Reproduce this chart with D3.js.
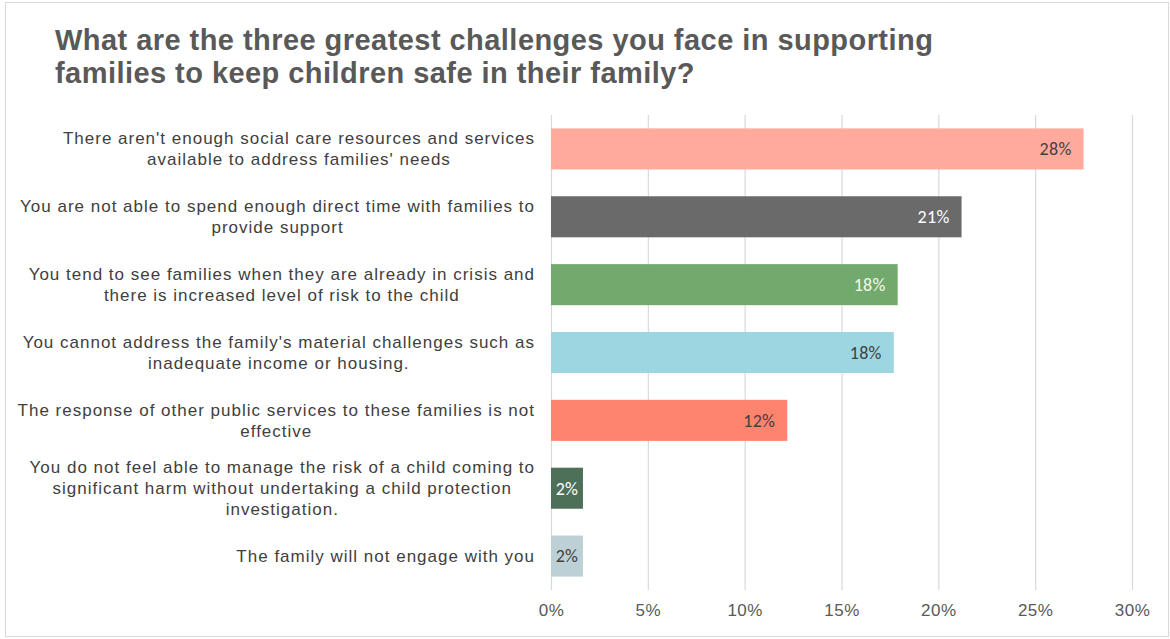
<!DOCTYPE html>
<html>
<head>
<meta charset="utf-8">
<script src="https://cdn.jsdelivr.net/npm/d3@7"></script>
<style>
  body { margin: 0; background: #fff; }
  svg { display: block; font-family: "Liberation Sans", Arial, sans-serif; }
</style>
</head>
<body>
<script>
// chart data
const categories = [
  ["There aren't enough social care resources and services", "available to address families' needs"],
  ["You are not able to spend enough direct time with families to", "provide support"],
  ["You tend to see families when they are already in crisis and", "there is increased level of risk to the child"],
  ["You cannot address the family's material challenges such as", "inadequate income or housing."],
  ["The response of other public services to these families is not", "effective"],
  ["You do not feel able to manage the risk of a child coming to", "significant harm without undertaking a child protection", "investigation."],
  ["The family will not engage with you"]
];
const values = [27.5, 21.2, 17.9, 17.7, 12.2, 1.65, 1.65];
const valueLabels = ["28%", "21%", "18%", "18%", "12%", "2%", "2%"];
const barColors = ["#FFAA9D", "#6A6A6B", "#72A96D", "#9DD6E0", "#FF8470", "#4E6F58", "#BDD0D6"];
const labelColors = ["#404040", "#ffffff", "#f4f8e8", "#404040", "#404040", "#ffffff", "#404040"];
const xTicks = [0, 5, 10, 15, 20, 25, 30];

const W = 1170, H = 639;
const svg = d3.select("body").append("svg").attr("width", W).attr("height", H);

// outer frame
svg.append("rect")
  .attr("x", 5.5).attr("y", 2.5).attr("width", 1163).attr("height", 634)
  .attr("fill", "#fff").attr("stroke", "#d9d9d9");

// title
svg.append("text")
  .attr("x", 55).attr("y", 50)
  .attr("font-size", 29).attr("font-weight", "bold").attr("fill", "#595959")
  .attr("letter-spacing", 0.45)
  .selectAll("tspan")
  .data(["What are the three greatest challenges you face in supporting", "families to keep children safe in their family?"])
  .join("tspan")
  .attr("x", 55).attr("dy", (d, i) => i ? 33 : 0)
  .text(d => d);

const x = d3.scaleLinear().domain([0, 30]).range([551, 1132]);
const y = d3.scaleBand().domain(d3.range(categories.length)).range([115, 590])
  .paddingInner(0.395).paddingOuter(0.1975);

// gridlines
svg.append("g")
  .selectAll("line")
  .data(xTicks)
  .join("line")
  .attr("x1", d => x(d) + 0.5).attr("x2", d => x(d) + 0.5)
  .attr("y1", 115).attr("y2", 590)
  .attr("stroke", "#d9d9d9").attr("stroke-width", 1.2);

// x axis tick labels
const xAxis = d3.axisBottom(x).tickValues(xTicks).tickFormat(d => d + "%").tickSize(0).tickPadding(14);
svg.append("g")
  .attr("transform", "translate(0,590)")
  .call(xAxis)
  .call(g => g.select(".domain").remove())
  .call(g => g.selectAll("text")
    .attr("font-size", 17).attr("letter-spacing", 0.5).attr("fill", "#595959")
    .attr("font-family", "'Liberation Sans', Arial, sans-serif"));

// bars
svg.append("g")
  .selectAll("rect")
  .data(values)
  .join("rect")
  .attr("x", x(0))
  .attr("y", (d, i) => y(i))
  .attr("width", d => x(d) - x(0))
  .attr("height", y.bandwidth())
  .attr("fill", (d, i) => barColors[i]);

// value labels inside the bar end
svg.append("g")
  .selectAll("text")
  .data(values)
  .join("text")
  .attr("x", (d, i) => i >= 5 ? (x(0) + x(d)) / 2 : x(d) - 12)
  .attr("y", (d, i) => y(i) + y.bandwidth() / 2)
  .attr("dy", "0.35em")
  .attr("text-anchor", (d, i) => i >= 5 ? "middle" : "end")
  .attr("font-size", 18).attr("letter-spacing", 0.3)
  .attr("font-family", "Carlito, 'Liberation Sans', Arial, sans-serif")
  .attr("fill", (d, i) => labelColors[i])
  .text((d, i) => valueLabels[i]);

// category labels, lines centred on one another, block right-aligned
const lineH = 21;
const catG = svg.append("g");
categories.forEach((lines, i) => {
  const cy = y(i) + y.bandwidth() / 2;
  const t = catG.append("text")
    .attr("font-size", 17).attr("letter-spacing", 1).attr("fill", "#404040")
    .attr("text-anchor", "middle");
  t.selectAll("tspan")
    .data(lines)
    .join("tspan")
    .attr("y", (d, j) => cy + (j - (lines.length - 1) / 2) * lineH)
    .attr("dy", "0.35em")
    .text(d => d);
  let maxW = 0;
  t.selectAll("tspan").each(function () { maxW = Math.max(maxW, this.getComputedTextLength()); });
  t.selectAll("tspan").attr("x", 535 - maxW / 2);
});
</script>
</body>
</html>
